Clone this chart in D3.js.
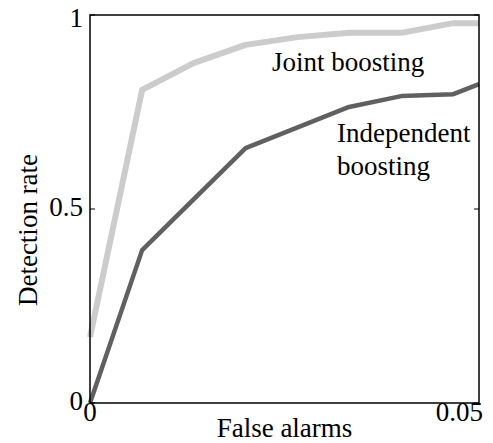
<!DOCTYPE html>
<html>
<head>
<meta charset="utf-8">
<script src="https://cdn.jsdelivr.net/npm/d3@7"></script>
<style>
  body { margin: 0; background: #fff; }
</style>
</head>
<body>
<svg id="chart" width="493" height="443"></svg>
<script>
// ROC-style curves
var jointX = [0, 0.0067, 0.0133, 0.02, 0.0267, 0.0333, 0.04, 0.0467, 0.05];
var jointY = [0.17, 0.807, 0.876, 0.923, 0.943, 0.954, 0.954, 0.979, 0.979];
var indepX = [0, 0.0067, 0.02, 0.0333, 0.04, 0.0467, 0.05];
var indepY = [0, 0.394, 0.657, 0.763, 0.791, 0.796, 0.822];
var xTicks = [0, 0.05];
var yTicks = [0, 0.5, 1];
var xTickLabels = ["0", "0.05"];
var yTickLabels = ["0", "0.5", "1"];

var FONT = '"Liberation Serif", "Times New Roman", Times, "DejaVu Serif", serif';
var FS = '27px';

var svg = d3.select('#chart');
var x = d3.scaleLinear().domain([0, 0.05]).range([90, 479]);
var y = d3.scaleLinear().domain([0, 1]).range([403, 15]);

function pts(xs, ys) { return xs.map(function (v, i) { return [v, ys[i]]; }); }

var line = d3.line()
	.x(function (d) { return x(d[0]); })
	.y(function (d) { return y(d[1]); });

svg.append('path')
	.datum(pts(jointX, jointY))
	.attr('d', line)
	.attr('fill', 'none')
	.attr('stroke', '#cccccc')
	.attr('stroke-width', 6)
	.attr('stroke-linejoin', 'round');

svg.append('path')
	.datum(pts(indepX, indepY))
	.attr('d', line)
	.attr('fill', 'none')
	.attr('stroke', '#606060')
	.attr('stroke-width', 4.5)
	.attr('stroke-linejoin', 'round');

// axes box
svg.append('rect')
	.attr('x', x(0)).attr('y', y(1))
	.attr('width', x(0.05) - x(0)).attr('height', y(0) - y(1))
	.attr('fill', 'none').attr('stroke', '#000').attr('stroke-width', 1.5);

// inward ticks, left and right
var tl = 5;
svg.selectAll('.ytl').data(yTicks).enter().append('line')
	.attr('x1', x(0)).attr('x2', x(0) + tl)
	.attr('y1', function (d) { return y(d); }).attr('y2', function (d) { return y(d); })
	.attr('stroke', '#000');
svg.selectAll('.ytr').data(yTicks).enter().append('line')
	.attr('x1', x(0.05)).attr('x2', x(0.05) - tl)
	.attr('y1', function (d) { return y(d); }).attr('y2', function (d) { return y(d); })
	.attr('stroke', '#000');

function label(sel) {
	return sel.attr('font-family', FONT).attr('font-size', FS).attr('fill', '#000');
}

// tick labels
label(svg.selectAll('.yl').data(yTicks).enter().append('text'))
	.attr('x', 83)
	.attr('y', function (d) { return d === 1 ? y(d) + 12 : y(d) + 7; })
	.attr('text-anchor', 'end')
	.text(function (d, i) { return yTickLabels[i]; });

label(svg.selectAll('.xl').data(xTicks).enter().append('text'))
	.attr('x', function (d) { return d === 0.05 ? x(d) + 4 : x(d); })
	.attr('y', 421)
	.attr('text-anchor', function (d) { return d === 0.05 ? 'end' : 'middle'; })
	.text(function (d, i) { return xTickLabels[i]; });

// axis titles
label(svg.append('text'))
	.attr('x', (x(0) + x(0.05)) / 2)
	.attr('y', 437)
	.attr('text-anchor', 'middle')
	.text('False alarms');

label(svg.append('text'))
	.attr('transform', 'translate(37,230) rotate(-90)')
	.attr('text-anchor', 'middle')
	.text('Detection rate');

// series labels
label(svg.append('text'))
	.attr('x', 272).attr('y', 71)
	.text('Joint boosting');

label(svg.append('text'))
	.attr('x', 337).attr('y', 142)
	.text('Independent');
label(svg.append('text'))
	.attr('x', 337).attr('y', 175)
	.text('boosting');
</script>
</body>
</html>
